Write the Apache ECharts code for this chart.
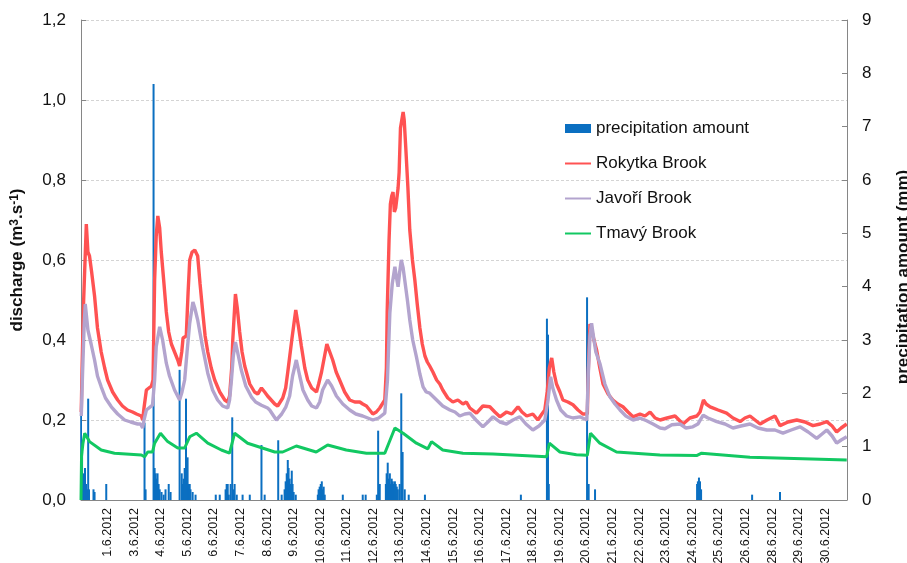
<!DOCTYPE html>
<html>
<head>
<meta charset="utf-8">
<script src="https://cdn.jsdelivr.net/npm/echarts@6/dist/echarts.min.js"></script>
<style>
html,body{margin:0;padding:0;background:#fff;}
#chart{width:907px;height:563px;}
</style>
</head>
<body>
<div id="chart"></div>
<script>
// x positions are in tick-label units: 0 = first label "1.6.2012", 1 = next label, ...
const tickLabels = ['1.6.2012','3.6.2012','4.6.2012','5.6.2012','6.6.2012','7.6.2012','8.6.2012','9.6.2012',
  '10.6.2012','11.6.2012','12.6.2012','13.6.2012','14.6.2012','15.6.2012','16.6.2012','17.6.2012','18.6.2012',
  '19.6.2012','20.6.2012','21.6.2012','22.6.2012','23.6.2012','24.6.2012','25.6.2012','26.6.2012','28.6.2012',
  '29.6.2012','30.6.2012'];

const rokytka = [
[-0.99,0.22],[-0.96,0.33],[-0.90,0.50],[-0.80,0.69],[-0.74,0.62],[-0.68,0.61],[-0.60,0.57],[-0.49,0.51],
[-0.38,0.43],[-0.24,0.37],[-0.11,0.33],[0.00,0.30],[0.19,0.27],[0.38,0.25],[0.56,0.235],[0.75,0.225],
[0.94,0.22],[1.09,0.215],[1.27,0.21],[1.32,0.20],[1.37,0.23],[1.46,0.275],[1.65,0.285],[1.71,0.30],
[1.77,0.55],[1.83,0.66],[1.89,0.71],[1.96,0.68],[2.02,0.62],[2.11,0.55],[2.21,0.47],[2.30,0.42],
[2.40,0.39],[2.52,0.37],[2.64,0.35],[2.71,0.335],[2.79,0.37],[2.84,0.405],[2.96,0.41],[3.03,0.52],
[3.09,0.60],[3.18,0.62],[3.28,0.625],[3.39,0.61],[3.48,0.54],[3.58,0.47],[3.67,0.41],[3.77,0.37],
[3.90,0.33],[4.03,0.30],[4.22,0.27],[4.41,0.25],[4.52,0.245],[4.59,0.26],[4.67,0.33],[4.71,0.40],
[4.81,0.515],[4.88,0.48],[4.97,0.42],[5.06,0.37],[5.16,0.335],[5.35,0.29],[5.53,0.27],[5.65,0.265],
[5.79,0.28],[5.91,0.27],[6.02,0.26],[6.29,0.24],[6.40,0.235],[6.59,0.255],[6.70,0.28],[6.78,0.32],
[6.93,0.40],[7.08,0.475],[7.19,0.43],[7.29,0.385],[7.42,0.33],[7.53,0.30],[7.68,0.28],[7.86,0.27],
[7.94,0.29],[8.05,0.32],[8.25,0.39],[8.36,0.37],[8.47,0.35],[8.60,0.32],[8.73,0.30],[8.92,0.27],
[9.11,0.25],[9.30,0.245],[9.49,0.245],[9.60,0.24],[9.74,0.235],[9.86,0.225],[9.98,0.215],[10.11,0.22],
[10.24,0.23],[10.43,0.25],[10.49,0.33],[10.52,0.47],[10.59,0.65],[10.64,0.74],[10.69,0.76],[10.74,0.77],
[10.79,0.72],[10.84,0.73],[10.93,0.78],[10.97,0.82],[11.02,0.93],[11.12,0.97],[11.16,0.95],[11.22,0.88],
[11.30,0.78],[11.37,0.675],[11.47,0.60],[11.56,0.55],[11.65,0.49],[11.75,0.43],[11.84,0.39],[11.94,0.36],
[12.03,0.345],[12.12,0.335],[12.24,0.32],[12.38,0.30],[12.50,0.29],[12.61,0.275],[12.80,0.255],[12.99,0.245],
[13.18,0.25],[13.37,0.24],[13.50,0.245],[13.63,0.23],[13.88,0.217],[14.12,0.235],[14.38,0.233],[14.57,0.22],
[14.76,0.208],[15.01,0.22],[15.21,0.215],[15.44,0.233],[15.59,0.22],[15.77,0.21],[16.00,0.215],[16.19,0.20],
[16.34,0.215],[16.45,0.225],[16.54,0.27],[16.62,0.33],[16.71,0.355],[16.79,0.32],[16.89,0.29],[17.02,0.27],
[17.13,0.25],[17.32,0.245],[17.51,0.238],[17.70,0.225],[17.88,0.215],[18.05,0.215],[18.09,0.33],[18.15,0.44],
[18.20,0.43],[18.30,0.40],[18.40,0.375],[18.52,0.33],[18.64,0.29],[18.83,0.265],[19.01,0.25],[19.20,0.24],
[19.39,0.233],[19.58,0.22],[19.77,0.208],[20.03,0.215],[20.22,0.21],[20.41,0.22],[20.60,0.205],[20.79,0.20],
[21.05,0.205],[21.35,0.21],[21.65,0.19],[21.91,0.205],[22.17,0.21],[22.29,0.22],[22.42,0.25],[22.52,0.24],
[22.67,0.233],[22.97,0.225],[23.29,0.217],[23.53,0.205],[23.80,0.196],[23.98,0.205],[24.17,0.21],[24.36,0.20],
[24.55,0.19],[24.81,0.20],[25.11,0.21],[25.30,0.186],[25.60,0.195],[25.93,0.20],[26.24,0.195],[26.54,0.186],
[26.81,0.19],[27.06,0.196],[27.26,0.185],[27.43,0.17],[27.60,0.18],[27.81,0.19]
];

const javori = [
[-0.99,0.21],[-0.94,0.32],[-0.88,0.44],[-0.84,0.49],[-0.74,0.425],[-0.62,0.39],[-0.49,0.35],[-0.38,0.31],
[-0.24,0.283],[-0.08,0.255],[0.14,0.233],[0.38,0.215],[0.64,0.20],[0.87,0.195],[1.13,0.19],[1.24,0.19],
[1.32,0.18],[1.37,0.20],[1.46,0.225],[1.69,0.237],[1.77,0.30],[1.83,0.383],[1.96,0.433],[2.07,0.40],
[2.21,0.342],[2.33,0.31],[2.52,0.275],[2.71,0.25],[2.80,0.27],[2.90,0.30],[2.99,0.37],[3.09,0.442],
[3.21,0.495],[3.28,0.48],[3.39,0.45],[3.58,0.38],[3.77,0.317],[3.95,0.275],[4.14,0.25],[4.33,0.235],
[4.52,0.23],[4.59,0.25],[4.66,0.30],[4.73,0.36],[4.81,0.395],[4.89,0.37],[5.03,0.325],[5.20,0.285],
[5.41,0.258],[5.57,0.245],[5.79,0.237],[6.02,0.23],[6.10,0.225],[6.35,0.20],[6.55,0.215],[6.71,0.233],
[6.85,0.26],[6.96,0.31],[7.10,0.35],[7.23,0.31],[7.35,0.275],[7.53,0.25],[7.68,0.235],[7.86,0.23],
[7.98,0.245],[8.09,0.275],[8.28,0.30],[8.43,0.285],[8.61,0.26],[8.85,0.24],[9.11,0.225],[9.34,0.215],
[9.60,0.21],[9.79,0.205],[9.98,0.20],[10.20,0.205],[10.43,0.217],[10.53,0.30],[10.62,0.467],[10.71,0.54],
[10.81,0.583],[10.86,0.56],[10.93,0.533],[10.99,0.57],[11.05,0.60],[11.12,0.58],[11.18,0.55],[11.28,0.50],
[11.37,0.45],[11.48,0.40],[11.62,0.358],[11.75,0.315],[11.87,0.283],[11.99,0.27],[12.12,0.267],[12.38,0.25],
[12.61,0.235],[12.88,0.225],[13.07,0.22],[13.25,0.21],[13.44,0.215],[13.63,0.217],[13.86,0.20],[14.12,0.183],
[14.31,0.195],[14.50,0.208],[14.76,0.195],[15.01,0.19],[15.25,0.20],[15.51,0.208],[15.74,0.19],[16.00,0.175],
[16.23,0.185],[16.45,0.20],[16.57,0.25],[16.67,0.308],[16.75,0.28],[16.89,0.25],[17.05,0.225],[17.27,0.21],
[17.51,0.205],[17.77,0.208],[18.03,0.20],[18.09,0.32],[18.15,0.41],[18.21,0.442],[18.30,0.40],[18.37,0.37],
[18.52,0.342],[18.71,0.29],[18.90,0.258],[19.09,0.24],[19.28,0.225],[19.50,0.21],[19.77,0.20],[20.03,0.205],
[20.28,0.198],[20.52,0.19],[20.79,0.18],[20.97,0.178],[21.23,0.188],[21.54,0.19],[21.76,0.18],[22.02,0.183],
[22.21,0.19],[22.41,0.212],[22.59,0.205],[22.92,0.196],[23.23,0.19],[23.53,0.18],[23.83,0.185],[24.17,0.19],
[24.47,0.18],[24.80,0.175],[25.11,0.175],[25.41,0.167],[25.72,0.175],[26.05,0.183],[26.36,0.17],[26.68,0.154],
[26.88,0.165],[27.06,0.175],[27.26,0.16],[27.43,0.142],[27.60,0.15],[27.81,0.158]
];

const tmavy = [
[-1.00,0.0],[-0.98,0.11],[-0.93,0.14],[-0.86,0.167],[-0.68,0.146],[-0.24,0.125],[0.26,0.117],[1.27,0.1125],
[1.39,0.108],[1.51,0.12],[1.69,0.12],[1.77,0.142],[1.99,0.167],[2.26,0.146],[2.64,0.13],[2.90,0.13],
[3.09,0.158],[3.34,0.167],[3.77,0.142],[4.28,0.125],[4.59,0.117],[4.78,0.167],[5.27,0.142],[6.29,0.12],
[6.59,0.12],[7.10,0.135],[7.85,0.12],[8.28,0.1375],[8.98,0.125],[9.74,0.117],[10.43,0.117],[10.81,0.18],
[11.12,0.167],[11.62,0.142],[12.05,0.128],[12.19,0.146],[12.61,0.125],[13.37,0.117],[14.50,0.115],[16.52,0.108],
[16.62,0.142],[17.02,0.12],[17.64,0.113],[18.05,0.112],[18.17,0.167],[18.52,0.142],[19.15,0.12],[20.78,0.1125],
[22.16,0.111],[22.35,0.117],[24.17,0.107],[27.81,0.10]
];

const precipitation = [
[-1.00,2.0],[-0.96,0.9],[-0.92,0.5],[-0.88,0.3],[-0.85,0.6],[-0.81,0.3],[-0.77,0.2],[-0.73,1.9],[-0.70,0.2],
[-0.53,0.2],[-0.49,0.15],[-0.05,0.3],[1.39,1.45],[1.43,0.2],[1.73,7.8],[1.77,0.6],[1.81,0.5],[1.84,0.4],
[1.88,0.5],[1.92,0.3],[1.96,0.2],[2.03,0.15],[2.11,0.1],[2.18,0.2],[2.30,0.3],[2.37,0.15],[2.71,2.44],
[2.79,0.5],[2.82,0.3],[2.86,0.4],[2.90,0.6],[2.95,1.9],[3.01,0.8],[3.05,0.3],[3.09,0.3],[3.12,0.2],
[3.20,0.15],[3.31,0.1],[4.07,0.1],[4.22,0.1],[4.44,0.2],[4.48,0.3],[4.52,0.3],[4.56,0.1],[4.63,0.3],
[4.69,1.55],[4.74,0.2],[4.78,0.3],[4.86,0.1],[5.08,0.1],[5.35,0.1],[5.79,1.03],[5.91,0.1],[6.42,1.12],
[6.55,0.1],[6.66,0.2],[6.70,0.35],[6.74,0.5],[6.78,0.75],[6.81,0.6],[6.85,0.4],[6.89,0.3],[6.93,0.55],
[6.96,0.3],[7.00,0.15],[7.08,0.1],[7.91,0.1],[7.94,0.2],[7.98,0.25],[8.02,0.3],[8.06,0.35],[8.09,0.2],
[8.13,0.25],[8.17,0.1],[8.85,0.1],[9.60,0.1],[9.71,0.1],[10.13,0.1],[10.18,1.3],[10.24,0.3],[10.47,0.3],
[10.50,0.5],[10.54,0.7],[10.58,0.4],[10.62,0.5],[10.66,0.3],[10.69,0.4],[10.73,0.35],[10.77,0.3],[10.81,0.35],
[10.84,0.3],[10.88,0.25],[10.92,0.2],[10.99,0.3],[11.05,2.0],[11.10,0.9],[11.18,0.2],[11.33,0.1],[11.94,0.1],
[15.55,0.1],[16.53,3.4],[16.57,3.1],[16.60,0.3],[18.04,3.8],[18.10,0.3],[18.34,0.2],[22.18,0.3],[22.21,0.35],
[22.25,0.42],[22.29,0.35],[22.33,0.2],[24.25,0.1],[25.30,0.15]
];

const leftTicks = [0, 0.2, 0.4, 0.6, 0.8, 1.0, 1.2];
const rightTicks = [0,1,2,3,4,5,6,7,8,9];

const chart = echarts.init(document.getElementById('chart'), null, {renderer: 'canvas'});
const FONT = 'Liberation Sans, Arial, sans-serif';
const AXIS_GRAY = '#868686';
const lineLegend = {itemStyle: {opacity: 0}, lineStyle: {width: 2}};

chart.setOption({
  animation: false,
  backgroundColor: '#ffffff',
  textStyle: {fontFamily: FONT},
  grid: {left: 81, right: 60, top: 20, bottom: 63, containLabel: false, outerBoundsMode: 'none'},
  legend: {
    orient: 'vertical',
    left: 564,
    top: 120,
    padding: 0,
    itemWidth: 26,
    itemHeight: 9,
    itemGap: 18,
    textStyle: {fontFamily: FONT, fontSize: 17, color: '#111'},
    data: [
      {name: 'precipitation amount', icon: 'rect'},
      Object.assign({name: 'Rokytka Brook'}, lineLegend),
      Object.assign({name: 'Javoří Brook'}, lineLegend),
      Object.assign({name: 'Tmavý Brook'}, lineLegend)
    ]
  },
  xAxis: {
    type: 'value',
    min: -1,
    max: 27.82,
    interval: 1,
    axisLine: {show: true, onZero: false, lineStyle: {color: AXIS_GRAY, width: 1}},
    axisTick: {show: false},
    splitLine: {show: false},
    axisLabel: {
      rotate: 90,
      margin: 8,
      fontSize: 12.5,
      color: '#111',
      fontFamily: FONT,
      showMinLabel: false,
      showMaxLabel: false,
      formatter: function (v) {
        const i = Math.round(v);
        if (Math.abs(v - i) > 1e-6 || i < 0 || i >= tickLabels.length) return '';
        return tickLabels[i];
      }
    }
  },
  yAxis: [
    {
      type: 'value',
      min: leftTicks[0],
      max: leftTicks[leftTicks.length - 1],
      interval: 0.2,
      name: 'discharge (m{sup|3}.s{sup|-1})',
      nameLocation: 'middle',
      nameGap: 55,
      nameRotate: 90,
      nameTextStyle: {
        fontFamily: FONT, fontSize: 17, fontWeight: 'bold', color: '#111',
        rich: {sup: {fontFamily: FONT, fontSize: 12, fontWeight: 'bold', color: '#111', verticalAlign: 'top', lineHeight: 17}}
      },
      axisLine: {show: true, onZero: false, lineStyle: {color: AXIS_GRAY, width: 1}},
      axisTick: {show: true, inside: true, length: 5, lineStyle: {color: AXIS_GRAY}},
      splitLine: {show: true, lineStyle: {color: '#d4d4d4', type: [3, 2], width: 1}},
      axisLabel: {
        margin: 15, fontSize: 17, color: '#111', fontFamily: FONT,
        formatter: function (v) { return v.toFixed(1).replace('.', ','); }
      }
    },
    {
      type: 'value',
      position: 'right',
      min: rightTicks[0],
      max: rightTicks[rightTicks.length - 1],
      interval: 1,
      name: 'precipitation amount (mm)',
      nameLocation: 'middle',
      nameGap: 48,
      nameRotate: 90,
      nameTextStyle: {fontFamily: FONT, fontSize: 17, fontWeight: 'bold', color: '#111', padding: [0, 34, 0, 0]},
      axisLine: {show: true, onZero: false, lineStyle: {color: AXIS_GRAY, width: 1}},
      axisTick: {show: true, inside: true, length: 5, lineStyle: {color: AXIS_GRAY}},
      splitLine: {show: false},
      axisLabel: {margin: 15, fontSize: 17, color: '#111', fontFamily: FONT}
    }
  ],
  series: [
    {
      name: 'precipitation amount',
      type: 'bar',
      xAxisIndex: 0,
      yAxisIndex: 1,
      barWidth: 2,
      itemStyle: {color: '#0B6FC1'},
      data: precipitation
    },
    {
      name: 'Rokytka Brook',
      type: 'line',
      yAxisIndex: 0,
      symbol: 'none',
      color: '#FF5252',
      lineStyle: {color: '#FF5252', width: 3.4},
      data: rokytka
    },
    {
      name: 'Javoří Brook',
      type: 'line',
      yAxisIndex: 0,
      symbol: 'none',
      color: '#B3A4CE',
      lineStyle: {color: '#B3A4CE', width: 3.4},
      data: javori
    },
    {
      name: 'Tmavý Brook',
      type: 'line',
      yAxisIndex: 0,
      symbol: 'none',
      color: '#12C862',
      lineStyle: {color: '#12C862', width: 3},
      data: tmavy
    }
  ]
});
</script>
</body>
</html>
